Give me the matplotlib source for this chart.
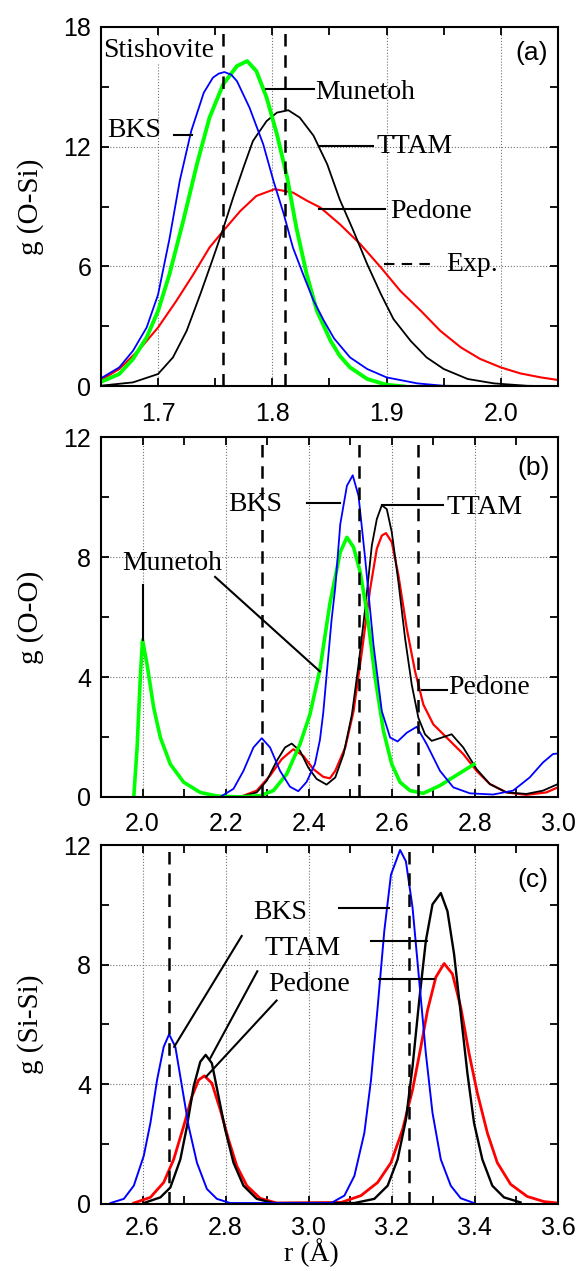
import matplotlib
matplotlib.use('Agg')
import matplotlib.pyplot as plt
from matplotlib.ticker import MultipleLocator

# ---------------- (a) g(O-Si) ----------------
a_bks_r = [1.649, 1.666, 1.678, 1.690, 1.700, 1.710, 1.719, 1.729, 1.740, 1.748, 1.753, 1.758, 1.764, 1.769, 1.780, 1.792,
           1.801, 1.810, 1.818, 1.827, 1.836, 1.845, 1.854, 1.868, 1.883, 1.900, 1.927, 1.950, 2.000, 2.050]
a_bks_g = [0.37, 0.95, 1.78, 2.95, 4.6, 7.4, 10.3, 12.78, 14.7, 15.45, 15.65, 15.73, 15.6, 15.28, 13.95, 12.12,
           10.28, 8.62, 6.95, 5.6, 4.3, 3.3, 2.4, 1.45, 0.87, 0.45, 0.15, 0.03, 0.0, 0.0]
a_mun_r = [1.649, 1.666, 1.678, 1.690, 1.700, 1.710, 1.722, 1.734, 1.745, 1.757, 1.769, 1.778, 1.786, 1.795,
           1.804, 1.813, 1.821, 1.830, 1.839, 1.851, 1.859, 1.868, 1.883, 1.900, 1.915]
a_mun_g = [0.2, 0.62, 1.37, 2.45, 3.78, 5.62, 8.28, 11.12, 13.45, 15.12, 16.03, 16.28, 15.78, 14.45,
           12.62, 10.45, 7.95, 5.62, 3.78, 2.28, 1.53, 0.95, 0.37, 0.08, 0.0]
a_ttam_r = [1.649, 1.678, 1.700, 1.713, 1.725, 1.737, 1.748, 1.757, 1.766, 1.775, 1.783, 1.795, 1.804, 1.814,
            1.824, 1.836, 1.848, 1.859, 1.871, 1.883, 1.895, 1.906, 1.921, 1.935, 1.950, 1.971, 1.994, 2.023, 2.050]
a_ttam_g = [0.03, 0.2, 0.62, 1.45, 2.78, 4.62, 6.4, 7.9, 9.5, 11.0, 12.28, 13.28, 13.7, 13.82,
            13.45, 12.55, 11.12, 9.35, 7.78, 6.12, 4.62, 3.37, 2.28, 1.45, 0.87, 0.37, 0.15, 0.03, 0.0]
a_ped_r = [1.649, 1.666, 1.684, 1.700, 1.716, 1.731, 1.745, 1.757, 1.772, 1.786, 1.802, 1.818, 1.830, 1.842,
           1.859, 1.877, 1.895, 1.912, 1.930, 1.947, 1.965, 1.982, 2.000, 2.017, 2.035, 2.050]
a_ped_g = [0.28, 0.87, 1.87, 2.95, 4.28, 5.62, 6.95, 7.78, 8.78, 9.53, 9.87, 9.7, 9.3, 8.95,
           8.12, 7.12, 5.95, 4.78, 3.78, 2.78, 1.95, 1.37, 0.95, 0.65, 0.45, 0.32]
a_exp = [1.757, 1.811]

# ---------------- (b) g(O-O) ----------------
b_bks_r = [2.187, 2.219, 2.243, 2.267, 2.287, 2.307, 2.331, 2.355, 2.375, 2.395, 2.415, 2.427, 2.435, 2.444,
           2.455, 2.464, 2.476, 2.492, 2.506, 2.520, 2.536, 2.556, 2.576, 2.596, 2.614, 2.636, 2.660, 2.684,
           2.716, 2.748, 2.788, 2.844, 2.892, 2.932, 2.964, 2.988, 3.000]
b_bks_g = [0.0, 0.27, 0.87, 1.65, 1.96, 1.65, 0.87, 0.34, 0.19, 0.5, 1.1, 1.9, 2.8, 4.2,
           5.9, 7.0, 9.1, 10.38, 10.73, 10.04, 7.94, 5.07, 2.86, 1.98, 1.85, 2.14, 2.34, 1.76,
           0.87, 0.32, 0.12, 0.08, 0.21, 0.65, 1.15, 1.43, 1.45]
b_mun_r = [1.979, 1.987, 1.995, 2.000, 2.011, 2.027, 2.043, 2.067, 2.099, 2.139, 2.179, 2.230, 2.283, 2.315,
           2.347, 2.379, 2.403, 2.427, 2.451, 2.476, 2.492, 2.508, 2.524, 2.540, 2.560, 2.580, 2.600, 2.620,
           2.644, 2.676, 2.716, 2.798]
b_mun_g = [0.0, 1.65, 4.08, 5.24, 4.41, 2.97, 1.98, 1.09, 0.49, 0.15, 0.03, 0.0, 0.04, 0.21,
           0.76, 1.76, 2.75, 4.25, 6.45, 8.17, 8.66, 8.33, 7.5, 6.18, 3.97, 2.2, 1.09, 0.49,
           0.21, 0.12, 0.38, 1.09]
b_ttam_r = [2.235, 2.275, 2.299, 2.323, 2.343, 2.359, 2.379, 2.399, 2.419, 2.443, 2.464, 2.484, 2.504, 2.520,
            2.536, 2.552, 2.564, 2.576, 2.588, 2.600, 2.616, 2.632, 2.648, 2.664, 2.680, 2.696, 2.716, 2.744,
            2.772, 2.804, 2.836, 2.876, 2.924, 2.964, 3.000]
b_ttam_g = [0.0, 0.15, 0.54, 1.2, 1.65, 1.78, 1.54, 0.98, 0.6, 0.41, 0.65, 1.43, 2.75, 4.41,
            6.29, 8.39, 9.27, 9.73, 9.6, 8.83, 7.17, 5.29, 3.75, 2.64, 2.09, 1.87, 1.96, 2.09,
            1.65, 0.93, 0.43, 0.15, 0.1, 0.21, 0.43]
b_ped_r = [2.235, 2.275, 2.307, 2.335, 2.363, 2.387, 2.411, 2.435, 2.451, 2.464, 2.488, 2.508, 2.528, 2.548,
           2.564, 2.576, 2.586, 2.600, 2.616, 2.636, 2.656, 2.676, 2.700, 2.724, 2.748, 2.772, 2.804, 2.836,
           2.876, 2.924, 2.972, 3.000]
b_ped_g = [0.0, 0.21, 0.71, 1.26, 1.59, 1.37, 0.93, 0.67, 0.62, 0.87, 1.65, 2.86, 4.85, 6.95,
           8.28, 8.72, 8.8, 8.5, 7.39, 5.62, 4.19, 3.08, 2.42, 2.09, 1.76, 1.43, 0.87, 0.43,
           0.15, 0.07, 0.15, 0.32]
b_exp = [2.288, 2.522, 2.664]

# ---------------- (c) g(Si-Si) ----------------
c_bks_r = [2.523, 2.555, 2.579, 2.603, 2.619, 2.635, 2.651, 2.664, 2.679, 2.695, 2.711, 2.731, 2.755, 2.779,
           2.811, 3.054, 3.086, 3.110, 3.134, 3.150, 3.166, 3.182, 3.198, 3.220, 3.234, 3.250, 3.266, 3.282,
           3.298, 3.318, 3.342, 3.366, 3.398]
c_bks_g = [0.02, 0.16, 0.6, 1.6, 2.7, 4.14, 5.25, 5.67, 5.25, 3.92, 2.59, 1.37, 0.49, 0.16,
           0.02, 0.02, 0.27, 0.93, 2.37, 4.14, 6.58, 9.13, 11.01, 11.84, 11.46, 9.91, 7.47, 5.03,
           3.04, 1.48, 0.6, 0.18, 0.02]
c_ttam_r = [2.603, 2.643, 2.667, 2.691, 2.707, 2.723, 2.739, 2.752, 2.767, 2.783, 2.799, 2.819, 2.843, 2.875,
            2.915, 3.110, 3.158, 3.190, 3.214, 3.234, 3.250, 3.266, 3.282, 3.298, 3.318, 3.334, 3.350, 3.366,
            3.382, 3.398, 3.418, 3.442, 3.470, 3.510]
c_ttam_g = [0.02, 0.21, 0.54, 1.48, 2.59, 3.92, 4.75, 4.98, 4.7, 3.59, 2.48, 1.37, 0.6, 0.16,
            0.02, 0.02, 0.16, 0.6, 1.48, 2.81, 4.59, 6.8, 8.8, 10.02, 10.4, 9.79, 8.35, 6.36,
            4.37, 2.7, 1.48, 0.6, 0.21, 0.04]
c_ped_r = [2.579, 2.619, 2.651, 2.675, 2.699, 2.719, 2.735, 2.749, 2.767, 2.787, 2.807, 2.827, 2.851, 2.883,
           2.923, 3.078, 3.126, 3.166, 3.198, 3.226, 3.250, 3.270, 3.286, 3.306, 3.326, 3.346, 3.366, 3.386,
           3.406, 3.430, 3.454, 3.486, 3.526, 3.566, 3.600]
c_ped_g = [0.02, 0.21, 0.71, 1.48, 2.59, 3.59, 4.14, 4.28, 4.03, 3.15, 2.15, 1.26, 0.6, 0.18,
           0.02, 0.04, 0.27, 0.71, 1.37, 2.48, 3.81, 5.25, 6.47, 7.58, 8.04, 7.69, 6.58, 5.03,
           3.7, 2.37, 1.37, 0.65, 0.24, 0.07, 0.02]
c_exp = [2.664, 3.242]

BLUE, GREEN, RED, BLACK = (0, 0, 1), (0, 1, 0), (1, 0, 0), 'k'
SERIF = 'Liberation Serif'
SANS = 'Liberation Sans'

plt.rcParams['font.family'] = SANS
fig = plt.figure(figsize=(5.77, 12.71), dpi=100)
L, W = 0.175, 0.792
ax_a = fig.add_axes([L, 0.696, W, 0.283])
ax_b = fig.add_axes([L, 0.373, W, 0.283])
ax_c = fig.add_axes([L, 0.053, W, 0.282])


def style(ax, xlim, ylim, xmaj, ymaj, ylabel, xpad=11):
    ax.set_xlim(*xlim)
    ax.set_ylim(*ylim)
    ax.xaxis.set_major_locator(MultipleLocator(xmaj))
    ax.xaxis.set_minor_locator(MultipleLocator(xmaj / 2))
    ax.yaxis.set_major_locator(MultipleLocator(ymaj))
    ax.yaxis.set_minor_locator(MultipleLocator(ymaj / 2))
    ax.grid(True, which='major', linestyle=':', color='0.45', linewidth=0.8)
    ax.tick_params(which='both', direction='in', top=True, right=True, width=1.3, length=6)
    ax.tick_params(axis='x', which='major', labelsize=18, pad=xpad)
    ax.tick_params(axis='y', which='major', labelsize=18, pad=7)
    for s in ax.spines.values():
        s.set_linewidth(1.5)
    ax.set_ylabel(ylabel, family=SERIF, fontsize=21)
    ax.yaxis.set_label_coords(-0.125, 0.5)


def exp_lines(ax, xs):
    for x in xs:
        ax.axvline(x, color='k', linewidth=1.8, dashes=(5, 3.5), zorder=4)


def note(ax, txt, x, y, **kw):
    ax.text(x, y, txt, family=SERIF, fontsize=20, ha='left', va='center', zorder=6, **kw)


def seg(ax, x0, y0, x1, y1, **kw):
    ax.plot([x0, x1], [y0, y1], color='k', linewidth=1.5, zorder=5, **kw)


# (a)
ax = ax_a
ax.plot(a_ped_r, a_ped_g, color=RED, linewidth=1.5)
ax.plot(a_ttam_r, a_ttam_g, color=BLACK, linewidth=1.3)
ax.plot(a_mun_r, a_mun_g, color=GREEN, linewidth=2.8)
ax.plot(a_bks_r, a_bks_g, color=BLUE, linewidth=1.3)
exp_lines(ax, a_exp)
style(ax, (1.65, 2.05), (0, 18), 0.1, 6, 'g (O-Si)')
note(ax, 'Stishovite', 1.6523, 16.8, bbox=dict(facecolor='white', edgecolor='none', pad=0))
seg(ax, 1.7942, 14.86, 1.8361, 14.86)
note(ax, 'Munetoh', 1.8377, 14.73)
seg(ax, 1.7135, 12.6, 1.7300, 12.6)
note(ax, 'BKS', 1.6555, 12.82)
seg(ax, 1.841, 12.04, 1.8877, 12.04)
note(ax, 'TTAM', 1.891, 12.0)
seg(ax, 1.841, 8.89, 1.899, 8.89)
note(ax, 'Pedone', 1.9032, 8.76)
ax.plot([1.8974, 1.9426], [6.1, 6.1], color='k', linewidth=1.5, dashes=(5, 3.5))
note(ax, 'Exp.', 1.9523, 6.1)
ax.text(2.041, 16.7, '(a)', fontsize=19, ha='right', va='center')

# (b)
ax = ax_b
ax.plot(b_ped_r, b_ped_g, color=RED, linewidth=1.6)
ax.plot(b_ttam_r, b_ttam_g, color=BLACK, linewidth=1.3)
ax.plot(b_mun_r, b_mun_g, color=GREEN, linewidth=2.6)
ax.plot(b_bks_r, b_bks_g, color=BLUE, linewidth=1.3)
exp_lines(ax, b_exp)
style(ax, (1.9, 3.0), (0, 12), 0.2, 4, 'g (O-O)')
note(ax, 'BKS', 2.2052, 9.77)
seg(ax, 2.395, 9.79, 2.476, 9.79)
note(ax, 'TTAM', 2.732, 9.66)
seg(ax, 2.576, 9.73, 2.724, 9.73)
note(ax, 'Munetoh', 1.9507, 7.78)
seg(ax, 2.1747, 7.34, 2.4268, 4.19)
seg(ax, 2.0, 7.06, 2.0, 5.24)
note(ax, 'Pedone', 2.736, 3.64)
seg(ax, 2.672, 3.58, 2.732, 3.58)
ax.text(2.98, 10.98, '(b)', fontsize=19, ha='right', va='center')

# (c)
ax = ax_c
ax.plot(c_ped_r, c_ped_g, color=RED, linewidth=2.0)
ax.plot(c_ttam_r, c_ttam_g, color=BLACK, linewidth=1.7)
ax.plot(c_bks_r, c_bks_g, color=BLUE, linewidth=1.4)
exp_lines(ax, c_exp)
style(ax, (2.5, 3.6), (0, 12), 0.2, 4, 'g (Si-Si)', xpad=9)
note(ax, 'BKS', 2.8667, 9.74)
seg(ax, 3.0736, 9.91, 3.1936, 9.91)
note(ax, 'TTAM', 2.8947, 8.55)
seg(ax, 3.1496, 8.8, 3.284, 8.8)
note(ax, 'Pedone', 2.9027, 7.33)
seg(ax, 3.1696, 7.52, 3.3016, 7.52)
seg(ax, 2.8387, 8.96, 2.6762, 5.25)
seg(ax, 2.8763, 7.78, 2.7627, 4.86)
seg(ax, 2.9227, 6.80, 2.7531, 4.25)
ax.text(3.578, 10.85, '(c)', fontsize=19, ha='right', va='center')
ax.set_xlabel('r (\u00c5)', family=SERIF, fontsize=20)
ax.xaxis.set_label_coords(0.46, -0.098)

fig.savefig('out.png', dpi=100)
